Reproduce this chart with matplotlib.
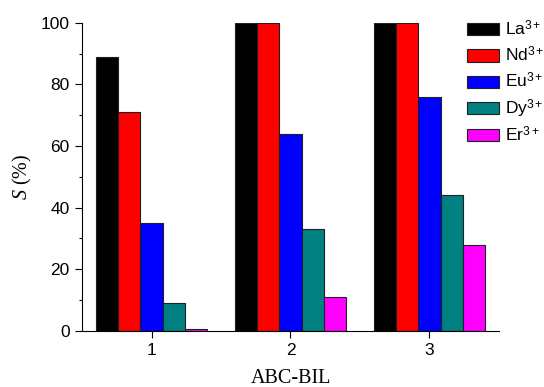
import matplotlib.pyplot as plt
import matplotlib.patches as mpatches
from matplotlib.container import BarContainer
from matplotlib.legend_handler import HandlerPatch, update_from_first_child
import numpy as np

plt.rcParams['font.family'] = ['Liberation Sans', 'DejaVu Sans']
plt.rcParams['mathtext.fontset'] = 'custom'
plt.rcParams['mathtext.rm'] = 'Liberation Sans'
plt.rcParams['mathtext.it'] = 'Liberation Serif:italic'

groups = [1, 2, 3]
ions = ['La$^{3+}$', 'Nd$^{3+}$', 'Eu$^{3+}$', 'Dy$^{3+}$', 'Er$^{3+}$']
la = [89, 100, 100]
nd = [71, 100, 100]
eu = [35, 64, 76]
dy = [9, 33, 44]
er = [0.5, 11, 28]
series = [la, nd, eu, dy, er]
colors = ['#000000', '#ff0000', '#0000ff', '#008080', '#ff00ff']

fig = plt.figure(figsize=(5.44, 3.87), dpi=100)
ax = fig.add_axes([0.151, 0.145, 0.766, 0.796])

x = np.array(groups, dtype=float)
w = 0.16
for i, (vals, c, lab) in enumerate(zip(series, colors, ions)):
    ax.bar(x + (i - 2) * w, vals, w, color=c, edgecolor='#202020',
           linewidth=0.8, label=lab)

ax.set_xlim(0.5, 3.5)
ax.set_ylim(0, 100)
ax.set_xticks(groups)
ax.set_yticks([0, 20, 40, 60, 80, 100])
ax.set_yticks([10, 30, 50, 70, 90], minor=True)
ax.tick_params(labelsize=12.5, direction='out', length=5, width=0.8, pad=4)
ax.tick_params(which='minor', length=2.5, width=0.8)
ax.spines['top'].set_visible(False)
ax.spines['right'].set_visible(False)

ax.set_xlabel('ABC-BIL', family='Liberation Serif', fontsize=14.5)
ax.set_ylabel('$S$ (%)', family='Liberation Serif', fontsize=14.5)
ax.xaxis.set_label_coords(0.5, -0.125)
ax.yaxis.set_label_coords(-0.115, 0.5)


# small box sitting on the text baseline, inside a taller row
def small_box(legend, orig_handle, xdescent, ydescent, width, height, fontsize):
    return mpatches.Rectangle((-xdescent, 0), width, 0.7 * fontsize)


ax.legend(loc='upper left', bbox_to_anchor=(0.924, 1.012), frameon=False,
          fontsize=12.5, handlelength=1.85, handleheight=1.5,
          labelspacing=0.285, handletextpad=0.35, borderaxespad=0, borderpad=0,
          handler_map={BarContainer: HandlerPatch(patch_func=small_box,
                                                  update_func=update_from_first_child)})

fig.savefig('out.png', dpi=100)
